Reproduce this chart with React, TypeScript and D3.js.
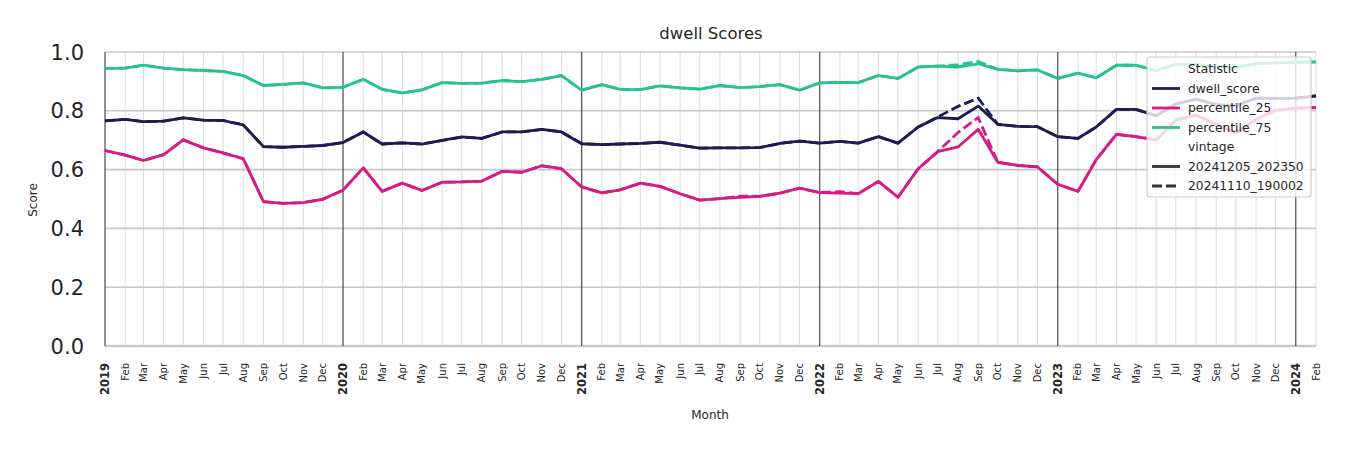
import React from "react";
import * as d3 from "d3";

const startMonth = "2019-01";
const endMonth = "2024-02";

const dwellScore = [
  0.766, 0.771, 0.763, 0.765, 0.776, 0.768, 0.767, 0.752, 0.678, 0.676, 0.679, 0.682,
  0.692, 0.728, 0.687, 0.691, 0.687, 0.699, 0.711, 0.706, 0.728, 0.728, 0.737, 0.728,
  0.688, 0.685, 0.687, 0.689, 0.693, 0.683, 0.673, 0.674, 0.674, 0.675, 0.689, 0.697,
  0.690, 0.696, 0.690, 0.712, 0.690, 0.745, 0.777, 0.773, 0.816, 0.754, 0.747, 0.746,
  0.712, 0.706, 0.745, 0.805, 0.805, 0.783, 0.823, 0.840, 0.821, 0.817, 0.843, 0.842,
  0.843, 0.851,
];
const percentile25 = [
  0.665, 0.649, 0.631, 0.651, 0.701, 0.674, 0.657, 0.637, 0.491, 0.485, 0.488, 0.499,
  0.530, 0.606, 0.526, 0.554, 0.529, 0.557, 0.558, 0.561, 0.594, 0.591, 0.613, 0.603,
  0.541, 0.521, 0.531, 0.554, 0.543, 0.518, 0.496, 0.501, 0.506, 0.509, 0.520, 0.537,
  0.522, 0.520, 0.518, 0.560, 0.506, 0.603, 0.661, 0.677, 0.737, 0.625, 0.614, 0.609,
  0.550, 0.526, 0.634, 0.720, 0.712, 0.701, 0.768, 0.785, 0.754, 0.726, 0.771, 0.802,
  0.809, 0.811,
];
const percentile75 = [
  0.944, 0.945, 0.955, 0.945, 0.940, 0.937, 0.934, 0.920, 0.886, 0.890, 0.895, 0.878,
  0.880, 0.907, 0.873, 0.861, 0.871, 0.896, 0.893, 0.894, 0.903, 0.899, 0.907, 0.920,
  0.870, 0.889, 0.873, 0.872, 0.885, 0.878, 0.874, 0.886, 0.879, 0.882, 0.889, 0.870,
  0.895, 0.897, 0.896, 0.920, 0.910, 0.949, 0.952, 0.949, 0.960, 0.941, 0.936, 0.939,
  0.910, 0.928, 0.912, 0.955, 0.955, 0.937, 0.958, 0.958, 0.951, 0.949, 0.960, 0.963,
  0.965, 0.966,
];

// older vintage (dashed)
const dwellScoreOld = [
  0.766, 0.771, 0.763, 0.765, 0.776, 0.768, 0.767, 0.752, 0.678, 0.676, 0.679, 0.682,
  0.692, 0.728, 0.687, 0.691, 0.687, 0.699, 0.711, 0.706, 0.728, 0.728, 0.737, 0.728,
  0.688, 0.685, 0.687, 0.689, 0.693, 0.683, 0.673, 0.674, 0.674, 0.675, 0.689, 0.697,
  0.690, 0.696, 0.690, 0.712, 0.690, 0.745, 0.779, 0.815, 0.843, 0.754, 0.747, 0.746,
  0.712, 0.706, 0.745, 0.805, 0.805, 0.783, 0.823, 0.840, 0.821, 0.817, 0.843, 0.842,
  0.843, 0.851,
];
const percentile25Old = [
  0.665, 0.649, 0.631, 0.651, 0.701, 0.674, 0.657, 0.637, 0.491, 0.485, 0.488, 0.499,
  0.530, 0.606, 0.526, 0.554, 0.529, 0.557, 0.558, 0.561, 0.594, 0.591, 0.613, 0.603,
  0.541, 0.521, 0.531, 0.554, 0.543, 0.518, 0.496, 0.501, 0.510, 0.509, 0.520, 0.537,
  0.522, 0.525, 0.518, 0.560, 0.506, 0.603, 0.661, 0.726, 0.777, 0.625, 0.614, 0.609,
  0.550, 0.526, 0.634, 0.720, 0.712, 0.701, 0.768, 0.785, 0.754, 0.726, 0.771, 0.802,
  0.809, 0.811,
];
const percentile75Old = [
  0.944, 0.945, 0.955, 0.945, 0.940, 0.937, 0.934, 0.920, 0.886, 0.890, 0.895, 0.878,
  0.880, 0.907, 0.873, 0.861, 0.871, 0.896, 0.893, 0.894, 0.903, 0.899, 0.907, 0.920,
  0.870, 0.889, 0.873, 0.872, 0.885, 0.878, 0.874, 0.886, 0.879, 0.882, 0.889, 0.870,
  0.895, 0.897, 0.896, 0.920, 0.910, 0.949, 0.952, 0.957, 0.968, 0.941, 0.936, 0.939,
  0.910, 0.928, 0.912, 0.955, 0.955, 0.937, 0.958, 0.958, 0.951, 0.949, 0.960, 0.963,
  0.965, 0.966,
];

const statistics = ["dwell_score", "percentile_25", "percentile_75"];
const vintages = ["20241205_202350", "20241110_190002"];
const yTicks = [0.0, 0.2, 0.4, 0.6, 0.8, 1.0];

const colors: Record<string, string> = {
  dwell_score: "#1c1c52",
  percentile_25: "#d81b84",
  percentile_75: "#27c38f",
};

const FONT = "DejaVu Sans, sans-serif";
const TEXT = "#262626";

export default function App() {
  const W = 1350, H = 450;
  const parse = d3.timeParse("%Y-%m");
  const t0 = parse(startMonth)!;
  const t1 = parse(endMonth)!;
  const months = d3.timeMonth.range(t0, d3.timeMonth.offset(t1, 1));

  const x = d3.scaleTime().domain([t0, t1]).range([105, 1316]);
  const y = d3.scaleLinear().domain([0, 1]).range([346, 52]);

  const line = d3
    .line<[Date, number]>()
    .x((d) => x(d[0]))
    .y((d) => y(d[1]));

  const seriesSolid: Record<string, number[]> = {
    dwell_score: dwellScore,
    percentile_25: percentile25,
    percentile_75: percentile75,
  };
  const seriesDashed: Record<string, number[]> = {
    dwell_score: dwellScoreOld,
    percentile_25: percentile25Old,
    percentile_75: percentile75Old,
  };
  const toPts = (vals: number[]) => vals.map((v, i) => [months[i], v] as [Date, number]);
  const fmtMon = d3.timeFormat("%b");
  const fmtYear = d3.timeFormat("%Y");

  const legendX = 1147, legendY = 57, legendW = 164, legendH = 140;
  const rowH = 19.5;
  const legendRows: { label: string; color?: string; dash?: boolean }[] = [
    { label: "Statistic" },
    ...statistics.map((s) => ({ label: s, color: colors[s] })),
    { label: "vintage" },
    { label: vintages[0], color: "#333333" },
    { label: vintages[1], color: "#333333", dash: true },
  ];

  return (
    <svg
      width={W}
      height={H}
      style={{ position: "absolute", left: 0, top: 0, background: "#fff" }}
      fontFamily={FONT}
    >
      <rect x={0} y={0} width={W} height={H} fill="#fff" />
      {/* minor month gridlines */}
      {months.map((m, i) =>
        m.getMonth() === 0 ? null : (
          <line key={"mg" + i} x1={x(m)} x2={x(m)} y1={52} y2={346} stroke="#d8d8d8" strokeWidth={0.9} />
        )
      )}
      {/* horizontal gridlines */}
      {yTicks.map((t) => (
        <line
          key={"hg" + t}
          x1={105}
          x2={1316}
          y1={y(t)}
          y2={y(t)}
          stroke="#c8c8c8"
          strokeWidth={t === 0 ? 2.5 : 1.6}
        />
      ))}
      {/* year lines */}
      {months.map((m, i) =>
        m.getMonth() === 0 ? (
          <line key={"yg" + i} x1={x(m)} x2={x(m)} y1={52} y2={346} stroke="#3a3a3a" strokeWidth={1.1} />
        ) : null
      )}
      {/* dashed older vintage */}
      {statistics.map((s) => (
        <path
          key={"d" + s}
          d={line(toPts(seriesDashed[s]))!}
          fill="none"
          stroke={colors[s]}
          strokeWidth={2.8}
          strokeDasharray="10,4"
        />
      ))}
      {/* solid current vintage */}
      {statistics.map((s) => (
        <path
          key={"s" + s}
          d={line(toPts(seriesSolid[s]))!}
          fill="none"
          stroke={colors[s]}
          strokeWidth={2.8}
          strokeLinejoin="round"
        />
      ))}
      {/* y tick labels */}
      {yTicks.map((t) => (
        <text key={"yt" + t} x={84} y={y(t)} dy="0.36em" textAnchor="end" fontSize={21} fill={TEXT}>
          {t.toFixed(1)}
        </text>
      ))}
      {/* x tick labels */}
      {months.map((m, i) => {
        const isYear = m.getMonth() === 0;
        return (
          <text
            key={"xt" + i}
            transform={`translate(${x(m)},363) rotate(-90)`}
            textAnchor="end"
            dy="0.35em"
            fontSize={isYear ? 11.5 : 10}
            fontWeight={isYear ? "bold" : "normal"}
            fill={TEXT}
          >
            {isYear ? fmtYear(m) : fmtMon(m)}
          </text>
        );
      })}
      {/* axis titles */}
      <text x={710} y={419} textAnchor="middle" fontSize={12} fill={TEXT}>
        Month
      </text>
      <text transform="translate(37,200) rotate(-90)" textAnchor="middle" fontSize={12} fill={TEXT}>
        Score
      </text>
      <text x={711} y={39} textAnchor="middle" fontSize={16.5} fill={TEXT}>
        dwell Scores
      </text>
      {/* legend */}
      <g>
        <rect
          x={legendX}
          y={legendY}
          width={legendW}
          height={legendH}
          rx={3}
          fill="#ffffff"
          fillOpacity={0.8}
          stroke="#cccccc"
          strokeWidth={1.2}
        />
        {legendRows.map((r, i) => {
          const cy = legendY + 12 + i * rowH;
          return (
            <g key={"lg" + i}>
              {r.color ? (
                <line
                  x1={legendX + 5}
                  x2={legendX + 33}
                  y1={cy}
                  y2={cy}
                  stroke={r.color}
                  strokeWidth={2.8}
                  strokeDasharray={r.dash ? "10,4" : undefined}
                />
              ) : null}
              <text x={legendX + 41} y={cy} dy="0.36em" fontSize={12.3} fill={TEXT}>
                {r.label}
              </text>
            </g>
          );
        })}
      </g>
    </svg>
  );
}
